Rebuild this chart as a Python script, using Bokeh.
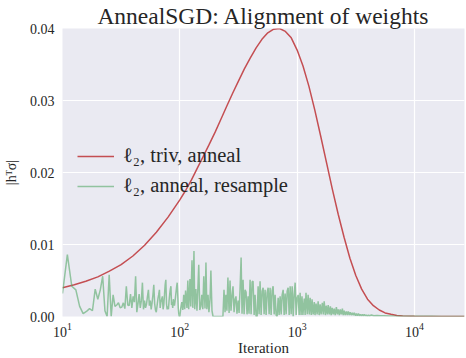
from bokeh.plotting import figure
from bokeh.models import Range1d, FixedTicker, PrintfTickFormatter, Legend, LegendItem
from bokeh.embed import file_html
from bokeh.resources import INLINE

# ---- data ----
# red: l2, triv, anneal
red_iter = [10, 12.6, 15.8, 20, 25.1, 31.6, 39.8, 50.1, 63.1, 79.4,
            100, 112, 126, 141, 158, 178, 200, 224, 251, 282,
            316, 355, 398, 447, 501, 562, 631, 708, 794, 891,
            1000, 1122, 1259, 1413, 1585, 1778, 1995, 2239, 2512, 2818,
            3162, 3548, 3981, 4467, 5012, 5623, 6310, 7079, 7943, 10000, 26700]
red_val = [0.0040, 0.0044, 0.0049, 0.0055, 0.0063, 0.0072, 0.0084, 0.0099, 0.0117, 0.0138,
           0.0162, 0.0175, 0.0190, 0.0206, 0.0222, 0.0239, 0.0256, 0.0274, 0.0292, 0.0310,
           0.0327, 0.0344, 0.0359, 0.0373, 0.0385, 0.0394, 0.0399, 0.0400, 0.0396, 0.0387,
           0.0370, 0.0348, 0.0320, 0.0287, 0.0251, 0.0214, 0.0177, 0.0142, 0.0110, 0.0081,
           0.0057, 0.0038, 0.0024, 0.0015, 0.0009, 0.0005, 0.0003, 0.00015, 0.00008, 0.00002, 0.0]

# green: l2, anneal, resample
green_iter_a = list(range(10, 100))
green_val_a = [0.0032, 0.0086, 0.0042, 0.0037, 0.0014, 0.0004, 0.0007, 0.0011, 0.0008, 0.0038,
               0.0024, 0.0037, 0.0056, 0.0008, 0.0000, 0.0058, 0.0000, 0.0030, 0.0014, 0.0016,
               0.0019, 0.0012, 0.0013, 0.0019, 0.0011, 0.0042, 0.0016, 0.0015, 0.0031, 0.0012,
               0.0028, 0.0020, 0.0056, 0.0006, 0.0018, 0.0031, 0.0012, 0.0022, 0.0047, 0.0010,
               0.0022, 0.0012, 0.0017, 0.0028, 0.0037, 0.0015, 0.0022, 0.0010, 0.0019, 0.0030,
               0.0044, 0.0018, 0.0009, 0.0006, 0.0015, 0.0024, 0.0030, 0.0037, 0.0012, 0.0020,
               0.0024, 0.0028, 0.0010, 0.0016, 0.0030, 0.0044, 0.0051, 0.0018, 0.0010, 0.0014,
               0.0010, 0.0022, 0.0031, 0.0038, 0.0042, 0.0016, 0.0020, 0.0012, 0.0024, 0.0019,
               0.0015, 0.0021, 0.0028, 0.0035, 0.0042, 0.0047, 0.0030, 0.0012, 0.0004, 0.0000]

green_iter_b = [100, 102, 104, 106, 108, 110, 112, 115, 117, 119,
                122, 124, 127, 129, 132, 134, 137, 140, 142, 145,
                148, 151, 154, 157, 160, 164, 167, 170, 174, 177,
                181, 184, 188, 192, 195, 199, 203, 207, 211, 216,
                220, 224, 229, 233, 238, 243, 247, 252, 257, 263,
                268, 273, 279, 284, 290, 296, 301, 307, 314, 320,
                326, 333, 339, 346, 353, 360, 367, 374, 382, 389,
                397, 405, 413, 421, 430, 438, 447, 456, 465, 474,
                483, 493, 503, 513, 523, 533, 544, 555, 566, 577,
                588, 600, 612, 624, 637, 649, 662, 675, 689, 702,
                716, 731, 745, 760, 775, 790, 806, 822, 838, 855,
                872, 889, 907, 925, 943, 962, 981, 1000]
green_val_b = [0.0000, 0.0012, 0.0020, 0.0009, 0.0030, 0.0010, 0.0036, 0.0012, 0.0050, 0.0010,
               0.0052, 0.0014, 0.0078, 0.0012, 0.0091, 0.0010, 0.0038, 0.0008, 0.0032, 0.0072,
               0.0009, 0.0014, 0.0030, 0.0010, 0.0056, 0.0011, 0.0075, 0.0010, 0.0030, 0.0006,
               0.0024, 0.0064, 0.0008, 0.0000, 0.0000, 0.0000, 0.0000, 0.0000, 0.0000, 0.0000,
               0.0000, 0.0000, 0.0000, 0.0000, 0.0037, 0.0006, 0.0030, 0.0008, 0.0054, 0.0005,
               0.0050, 0.0008, 0.0030, 0.0042, 0.0006, 0.0024, 0.0028, 0.0004, 0.0022, 0.0005,
               0.0037, 0.0082, 0.0004, 0.0051, 0.0003, 0.0037, 0.0034, 0.0003, 0.0028, 0.0004,
               0.0051, 0.0003, 0.0048, 0.0049, 0.0002, 0.0030, 0.0000, 0.0000, 0.0042, 0.0003,
               0.0049, 0.0002, 0.0035, 0.0040, 0.0003, 0.0037, 0.0002, 0.0033, 0.0040, 0.0003,
               0.0040, 0.0002, 0.0036, 0.0042, 0.0003, 0.0030, 0.0002, 0.0000, 0.0026, 0.0002,
               0.0028, 0.0003, 0.0030, 0.0037, 0.0002, 0.0032, 0.0003, 0.0035, 0.0040, 0.0002,
               0.0042, 0.0003, 0.0042, 0.0000, 0.0030, 0.0047, 0.0002, 0.0026]

green_iter_c = [1020, 1040, 1060, 1080, 1100, 1120, 1150, 1170, 1190, 1220,
                1240, 1270, 1290, 1320, 1340, 1370, 1400, 1420, 1450, 1480,
                1510, 1540, 1570, 1600, 1640, 1670, 1700, 1740, 1770, 1810,
                1840, 1880, 1920, 1950, 1990, 2030, 2070, 2110, 2160, 2200,
                2240, 2290, 2330, 2380, 2430, 2470, 2520, 2570, 2630, 2680,
                2730, 2790, 2840, 2900, 2960, 3010, 3070, 3140, 3200, 3260,
                3330, 3390, 3460, 3530, 3600, 3670, 3740, 3820, 3890, 3970,
                4050, 4130, 4300, 4500, 4800, 5100, 5500, 6000, 6600, 7300,
                8000, 9000, 10000, 12000, 14000, 17000, 20000, 23000, 26700]
green_val_c = [0.0030, 0.0002, 0.0033, 0.0002, 0.0028, 0.0002, 0.0025, 0.0002, 0.0033, 0.0003,
               0.0030, 0.0003, 0.0026, 0.0002, 0.0024, 0.0003, 0.0020, 0.0002, 0.0018, 0.0003,
               0.0021, 0.0002, 0.0017, 0.0003, 0.0019, 0.0003, 0.0021, 0.0002, 0.0015, 0.0003,
               0.0016, 0.0003, 0.0014, 0.0002, 0.0012, 0.0003, 0.0011, 0.0002, 0.0013, 0.0003,
               0.0010, 0.0002, 0.0010, 0.0003, 0.0011, 0.0002, 0.0008, 0.0002, 0.0007, 0.0002,
               0.0007, 0.0002, 0.0006, 0.0002, 0.0005, 0.0002, 0.0005, 0.0001, 0.0004, 0.0001,
               0.0004, 0.0001, 0.0003, 0.0001, 0.0003, 0.0001, 0.0003, 0.0001, 0.0002, 0.0001,
               0.0002, 0.0001, 0.0002, 0.0001, 0.00015, 0.0001, 0.0001, 0.00008, 0.00006, 0.00005,
               0.00004, 0.00003, 0.00003, 0.00002, 0.00002, 0.00001, 0.00001, 0.00001, 0.00001]

green_iter = green_iter_a + green_iter_b + green_iter_c
green_val = green_val_a + green_val_b + green_val_c

y_ticks = [0.0, 0.01, 0.02, 0.03, 0.04]
x_ticks = [10, 100, 1000, 10000]

TXT = "#262626"
FONT = "Liberation Serif"

p = figure(frame_width=402, frame_height=288, x_axis_type="log",
           x_range=Range1d(10, 26700), y_range=Range1d(0, 0.04),
           output_backend="svg", toolbar_location=None,
           min_border_left=55, min_border_right=1, min_border_top=21, min_border_bottom=41)

p.background_fill_color = "#EAEAF2"
p.border_fill_color = "white"
p.outline_line_color = None

p.title.text = "AnnealSGD: Alignment of weights"
p.title.align = "center"
p.title.text_font = FONT
p.title.text_font_size = "23.5px"
p.title.text_font_style = "normal"
p.title.text_color = TXT
p.title.standoff = 0

for g in (p.xgrid, p.ygrid):
    g.grid_line_color = "white"
    g.grid_line_width = 1.2
    g.minor_grid_line_color = None

p.xaxis.ticker = FixedTicker(ticks=x_ticks, minor_ticks=[])
p.yaxis.ticker = FixedTicker(ticks=y_ticks, minor_ticks=[])
p.yaxis.formatter = PrintfTickFormatter(format="%.2f")

for ax in (p.xaxis, p.yaxis):
    ax.axis_line_color = None
    ax.major_tick_line_color = None
    ax.minor_tick_line_color = None
    ax.major_tick_out = 0
    ax.major_tick_in = 0
    ax.minor_tick_out = 0
    ax.minor_tick_in = 0
    ax.major_label_text_font = FONT
    ax.major_label_text_font_size = "14px"
    ax.major_label_text_color = TXT
    ax.axis_label_text_font = FONT
    ax.axis_label_text_color = TXT
    ax.axis_label_text_font_style = "normal"

p.xaxis.major_label_standoff = 6
p.yaxis.major_label_standoff = 8
p.xaxis.axis_label = "Iteration"
p.xaxis.axis_label_text_font_size = "15px"
p.xaxis.axis_label_standoff = 0
p.yaxis.axis_label = "|hᵀσ|"
p.yaxis.axis_label_text_font_size = "14px"
p.yaxis.axis_label_standoff = 8

r_red = p.line(red_iter, red_val, line_color="#C44E52", line_width=1.5)
r_green = p.line(green_iter, green_val, line_color="#55A868", line_alpha=0.6, line_width=1.5)

legend = Legend(items=[LegendItem(label="ℓ₂, triv, anneal", renderers=[r_red]),
                       LegendItem(label="ℓ₂, anneal, resample", renderers=[r_green])],
                location=(15, 119))
legend.label_text_font = FONT
legend.label_text_font_size = "20.5px"
legend.label_text_color = TXT
legend.glyph_width = 37
legend.glyph_height = 20
legend.label_height = 20
legend.label_standoff = 9
legend.spacing = 7
legend.padding = 0
legend.margin = 0
legend.background_fill_alpha = 0
legend.border_line_alpha = 0
p.add_layout(legend)

open("out.html", "w").write(file_html(p, INLINE))
